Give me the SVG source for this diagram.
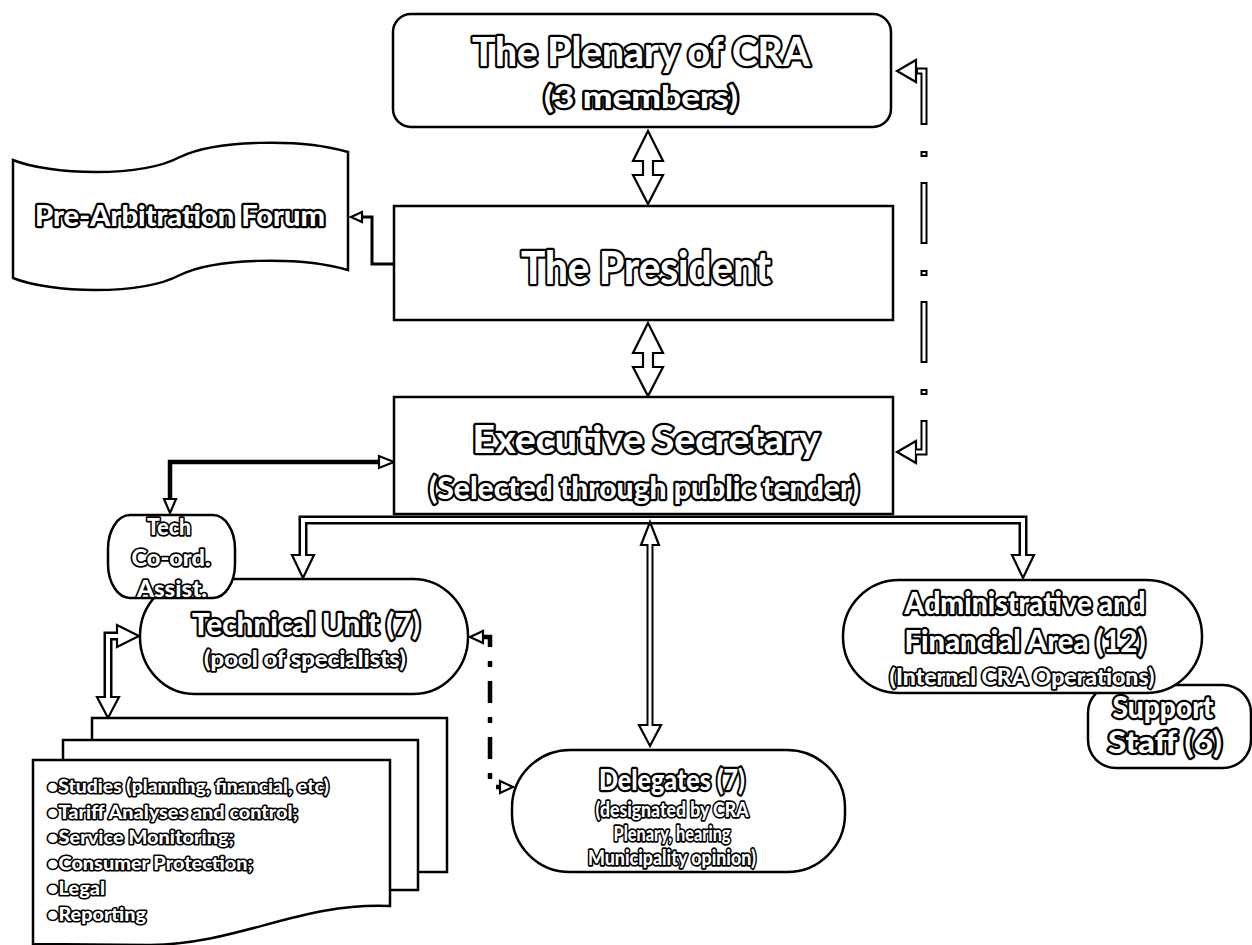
<svg xmlns="http://www.w3.org/2000/svg" width="1252" height="945" viewBox="0 0 1252 945">
  <style>
    .box { fill: #fff; stroke: #000; stroke-width: 2.5; }
    .t { font-family: Lato, "Open Sans", "Liberation Sans", sans-serif; font-weight: 900; fill: #fff; stroke: #000; stroke-width: 4.5; stroke-linejoin: round; paint-order: stroke; text-anchor: middle; }
    .s { stroke-width: 3.4; }
    .b { font-family: Lato, "Open Sans", "Liberation Sans", sans-serif; font-weight: 900; font-size: 19px; fill: #fff; stroke: #000; stroke-width: 3.2; stroke-linejoin: round; paint-order: stroke; }
    .head { fill: #fff; stroke: #000; stroke-width: 2.2; stroke-linejoin: miter; }
    .solid { fill: none; stroke: #000; stroke-width: 4.5; }
    .thin { fill: none; stroke: #000; stroke-width: 3; }
    .outer9 { fill: none; stroke: #000; stroke-width: 9; }
    .inner9 { fill: none; stroke: #fff; stroke-width: 4; }
    .outer7 { fill: none; stroke: #000; stroke-width: 7; }
    .inner7 { fill: none; stroke: #fff; stroke-width: 3; }
  </style>

  <!-- connectors -->
  <g id="connectors">
    <!-- Plenary <-> President block arrow -->
    <polygon class="head" points="648,131 663,161 653,161 653,175 663,175 648,204 633,175 643,175 643,161 633,161"/>
    <!-- President <-> Executive Secretary block arrow -->
    <polygon class="head" points="648,323 663,353 653,353 653,367 663,367 648,396 633,367 643,367 643,353 633,353"/>

    <!-- President -> Pre-Arbitration Forum -->
    <path class="thin" d="M 394 264 H 372 V 217 H 361"/>
    <polygon class="head" points="362,212 362,222 351,217"/>

    <!-- Plenary <-> Executive Secretary (dash-dot, hollow line) -->
    <path class="outer7" d="M 916 71 H 924 V 452 H 916" stroke-dasharray="62 26 6 25"/>
    <polygon class="head" points="916,60 916,82 897,71"/>
    <polygon class="head" points="916,441 916,463 897,452"/>
    <path class="inner7" d="M 916 71 H 924 V 452 H 916" stroke-dasharray="58 30 2 29" stroke-dashoffset="-2"/>

    <!-- Executive Secretary <-> Tech Co-ord. Assist. -->
    <path class="solid" d="M 380 462 H 170 V 499"/>
    <polygon class="head" points="379,456 379,468 394,462"/>
    <polygon class="head" points="164,499 176,499 170,513"/>

    <!-- Technical Unit <-> Administrative and Financial Area (under Executive Secretary) -->
    <path class="outer9" d="M 303 556 V 520 H 1023 V 556"/>
    <polygon class="head" points="292,555 314,555 303,578"/>
    <polygon class="head" points="1012,555 1034,555 1023,578"/>
    <path class="inner9" d="M 303 558 V 520 H 1023 V 558"/>

    <!-- Executive Secretary <-> Delegates -->
    <path class="outer7" d="M 650 544 V 726"/>
    <polygon class="head" points="641,545 659,545 650,522"/>
    <polygon class="head" points="639,725 661,725 650,746"/>
    <path class="inner7" d="M 650 542 V 728"/>

    <!-- Technical Unit <-> task list -->
    <path class="outer9" d="M 118 636 H 108 V 698"/>
    <polygon class="head" points="117,625 117,647 139,636"/>
    <polygon class="head" points="97,697 119,697 108,718"/>
    <path class="inner9" d="M 120 636 H 108 V 700"/>

    <!-- Technical Unit <-> Delegates (dash-dot) -->
    <path class="solid" d="M 482 637 H 490 V 787 H 501" stroke-dasharray="22 14 6 14" stroke-dashoffset="4"/>
    <polygon class="head" points="483,631 483,643 470,637"/>
    <polygon class="head" points="500,781 500,793 513,787"/>
  </g>

  <!-- The Plenary of CRA -->
  <g id="plenary">
    <rect class="box" x="393" y="14" width="498" height="113" rx="18" ry="18"/>
    <text class="t" x="641" y="66" font-size="40" textLength="338" lengthAdjust="spacingAndGlyphs">The Plenary of CRA</text>
    <text class="t" x="641" y="108" font-size="30" textLength="194" lengthAdjust="spacingAndGlyphs">(3 members)</text>
  </g>

  <!-- Pre-Arbitration Forum -->
  <g id="pre-arbitration">
    <path class="box" d="M 13 160 C 50 175, 140 178, 180 157 C 215 140, 300 138, 348 152 L 348 270 C 300 256, 215 258, 180 275 C 140 296, 50 293, 13 278 Z"/>
    <text class="t" x="180" y="226" font-size="29" textLength="290" lengthAdjust="spacingAndGlyphs">Pre-Arbitration Forum</text>
  </g>

  <!-- The President -->
  <g id="president">
    <rect class="box" x="394" y="206" width="499" height="114"/>
    <text class="t" x="646" y="284" font-size="45" textLength="250" lengthAdjust="spacingAndGlyphs">The President</text>
  </g>

  <!-- Executive Secretary -->
  <g id="executive-secretary">
    <rect class="box" x="394" y="397" width="499" height="117"/>
    <text class="t" x="646" y="453" font-size="38" textLength="347" lengthAdjust="spacingAndGlyphs">Executive Secretary</text>
    <text class="t" x="644" y="499" font-size="31" textLength="430" lengthAdjust="spacingAndGlyphs">(Selected through public tender)</text>
  </g>

  <!-- Technical Unit -->
  <g id="technical-unit">
    <rect class="box" x="140" y="579" width="328" height="115" rx="55" ry="57"/>
    <text class="t" x="306" y="635" font-size="31" textLength="228" lengthAdjust="spacingAndGlyphs">Technical Unit (7)</text>
    <text class="t s" x="305" y="667" font-size="22" textLength="202" lengthAdjust="spacingAndGlyphs">(pool of specialists)</text>
  </g>

  <!-- Tech Co-ord. Assist. -->
  <g id="tech-coord">
    <rect class="box" x="108" y="515" width="127" height="83" rx="22" ry="34"/>
    <text class="t s" x="169" y="535" font-size="23" textLength="44" lengthAdjust="spacingAndGlyphs">Tech</text>
    <text class="t s" x="171" y="566" font-size="23" textLength="79" lengthAdjust="spacingAndGlyphs">Co-ord.</text>
    <text class="t s" x="172" y="597" font-size="23" textLength="70" lengthAdjust="spacingAndGlyphs">Assist.</text>
  </g>

  <!-- Support Staff -->
  <g id="support-staff">
    <rect class="box" x="1088" y="685" width="163" height="83" rx="28" ry="28"/>
    <text class="t" x="1163" y="718" font-size="31" textLength="101" lengthAdjust="spacingAndGlyphs">Support</text>
    <text class="t" x="1165" y="753" font-size="31" textLength="114" lengthAdjust="spacingAndGlyphs">Staff (6)</text>
  </g>

  <!-- Administrative and Financial Area -->
  <g id="admin-area">
    <rect class="box" x="843" y="580" width="359" height="113" rx="56" ry="56"/>
    <text class="t" x="1025" y="614" font-size="31" textLength="241" lengthAdjust="spacingAndGlyphs">Administrative and</text>
    <text class="t" x="1025" y="652" font-size="31" textLength="241" lengthAdjust="spacingAndGlyphs">Financial Area (12)</text>
    <text class="t s" x="1022" y="685" font-size="22" textLength="265" lengthAdjust="spacingAndGlyphs">(Internal CRA Operations)</text>
  </g>

  <!-- Delegates -->
  <g id="delegates">
    <rect class="box" x="512" y="750" width="333" height="122" rx="58" ry="58"/>
    <text class="t" x="672" y="790" font-size="29" textLength="146" lengthAdjust="spacingAndGlyphs">Delegates (7)</text>
    <text class="t s" x="672" y="817" font-size="20" textLength="153" lengthAdjust="spacingAndGlyphs">(designated by CRA</text>
    <text class="t s" x="672" y="841" font-size="20" textLength="117" lengthAdjust="spacingAndGlyphs">Plenary, hearing</text>
    <text class="t s" x="672" y="865" font-size="20" textLength="168" lengthAdjust="spacingAndGlyphs">Municipality opinion)</text>
  </g>

  <!-- Technical Unit task list (stacked documents) -->
  <g id="task-list">
    <rect class="box" x="92" y="718" width="355" height="154"/>
    <rect class="box" x="63" y="740" width="355" height="150"/>
    <path class="box" d="M 33 760 H 390 V 906 C 300 902, 240 944, 150 945 L 33 944 Z"/>
    <text class="b" x="47" y="793" textLength="282" lengthAdjust="spacingAndGlyphs">•Studies (planning, financial, etc)</text>
    <text class="b" x="47" y="819" textLength="251" lengthAdjust="spacingAndGlyphs">•Tariff Analyses and control;</text>
    <text class="b" x="47" y="844" textLength="187" lengthAdjust="spacingAndGlyphs">•Service Monitoring;</text>
    <text class="b" x="47" y="870" textLength="206" lengthAdjust="spacingAndGlyphs">•Consumer Protection;</text>
    <text class="b" x="47" y="895" textLength="58" lengthAdjust="spacingAndGlyphs">•Legal</text>
    <text class="b" x="47" y="921" textLength="99" lengthAdjust="spacingAndGlyphs">•Reporting</text>
  </g>
</svg>
